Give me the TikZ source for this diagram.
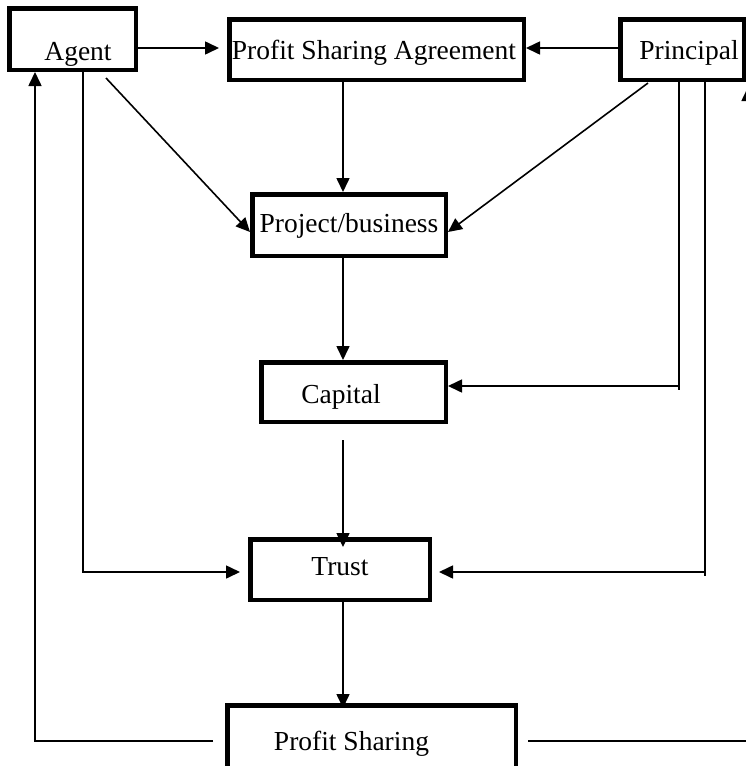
\documentclass[tikz,border=0pt]{standalone}
\usepackage{fontspec}
\setmainfont{Liberation Serif}
\usetikzlibrary{arrows.meta}
\begin{document}
\begin{tikzpicture}[x=1pt,y=-1pt,
  box/.style={draw,line width=4.5pt,inner sep=0pt,text depth=0pt,font=\fontsize{27.5}{32}\selectfont},
  arr/.style={line width=1.6pt,-{Triangle[length=14pt,width=13pt]}},
  ln/.style={line width=1.6pt}]
\useasboundingbox (0,0) rectangle (746,766);
\clip (0,0) rectangle (746,766);
% boxes
\node[box,minimum width=126.5pt,minimum height=61.5pt,text height=42pt] (agent) at (72.5,39) {\hspace*{11pt}Agent};
\node[box,minimum width=294.5pt,minimum height=60.5pt,text height=19pt] (psa) at (376.5,49.5) {Profit Sharing Agreement\hspace*{5pt}};
\node[box,minimum width=123.5pt,minimum height=60.5pt,text height=19pt] (principal) at (682,49.5) {\hspace*{14pt}Principal};
\node[box,minimum width=193.5pt,minimum height=61.5pt,text height=14pt] (project) at (349,225) {Project/business};
\node[box,minimum width=184.5pt,minimum height=59.5pt,text height=22pt] (capital) at (353.5,392) {Capital\hspace*{25pt}};
\node[box,minimum width=179.5pt,minimum height=60.5pt,text height=11pt] (trust) at (340,569.5) {Trust};
\node[box,minimum width=288.5pt,minimum height=77.5pt,text height=12pt] (ps) at (371.5,744) {Profit Sharing\hspace*{40pt}};
% helper columns
\coordinate (cx) at (343,0);
\coordinate (a0) at (35,0);
\coordinate (a1) at (83,0);
\coordinate (p1) at (679,0);
\coordinate (p2) at (705,0);
\coordinate (pr) at (748,0);
% top row
\draw[arr,shorten >=8pt] (agent.east |- 0,48) -- ([yshift=1.5pt]psa.west);
\draw[arr] ([yshift=1.5pt]principal.west) -- ([yshift=1.5pt]psa.east);
% central column
\draw[arr] (cx |- psa.south) -- (cx |- project.north);
\draw[arr,shorten <=-4pt] (cx |- project.south) -- (cx |- capital.north);
\draw[arr,shorten <=16pt,shorten >=-10pt] (cx |- capital.south) -- (cx |- trust.north);
\draw[arr,shorten >=-5pt] (cx |- trust.south) -- (cx |- ps.north);
% diagonals
\draw[arr] ([xshift=33.5pt,yshift=-6pt]agent.south) -- ([yshift=-7pt]project.west);
\draw[arr] ([xshift=-34pt,yshift=-1pt]principal.south) -- ([yshift=-7pt]project.east);
% principal to capital and trust
\draw[arr] (p1 |- principal.south) -- (679,390) (679,386) -- ([yshift=6pt]capital.east);
\draw[arr,shorten >=7pt] (p2 |- principal.south) -- (705,576) (705,572) -- ([yshift=-2.5pt]trust.east);
% agent to trust
\draw[arr,shorten >=8pt] (a1 |- agent.south) -- (83,572) -- ([yshift=-2.5pt]trust.west);
% profit sharing back to agent and principal
\draw[arr] ([xshift=-12pt,yshift=3pt]ps.west) -- (35,741) -- (a0 |- agent.south);
\draw[arr,shorten >=5pt] ([xshift=10pt,yshift=3pt]ps.east) -- (748,741) -- (pr |- principal.south);
\end{tikzpicture}
\end{document}
